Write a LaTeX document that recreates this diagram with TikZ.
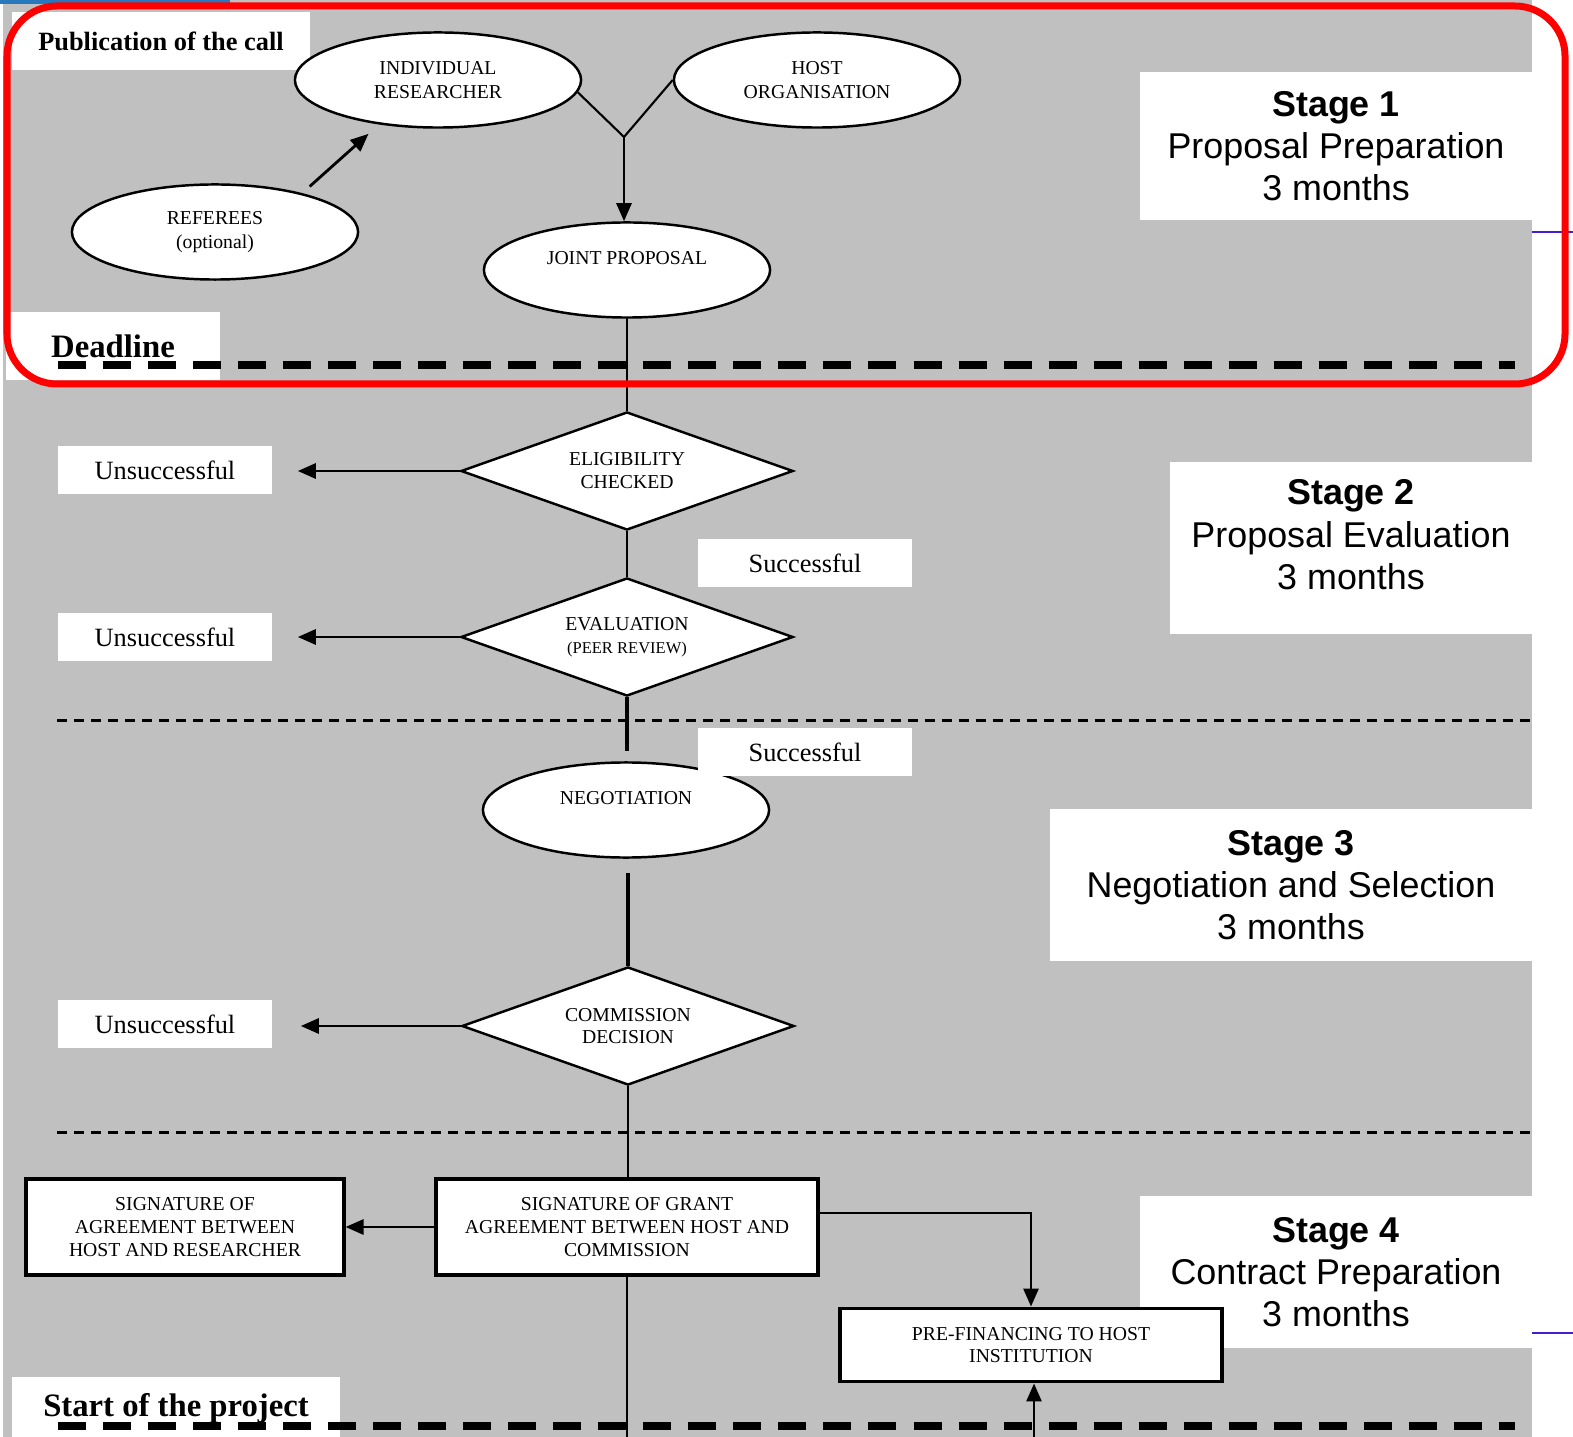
\documentclass[tikz,border=0pt]{standalone}
\usepackage{fontspec}
\setmainfont{Liberation Serif}
\setsansfont{Liberation Sans}
\usetikzlibrary{shapes.geometric,arrows.meta}
\definecolor{bggray}{RGB}{192,192,192}
\definecolor{framered}{RGB}{255,0,0}
\definecolor{edgeblue}{RGB}{70,30,210}
\definecolor{tabblue}{RGB}{40,120,190}

\begin{document}
\begin{tikzpicture}[x=0.01cm, y=-0.01cm,
  oval/.style = {draw, ellipse, fill=white, line width=0.7pt, minimum width=2.86cm, minimum height=0.95cm, inner sep=0pt, align=center, font=\fontsize{5.6}{6.8}\selectfont},
  check/.style = {draw, diamond, fill=white, line width=0.7pt, minimum width=3.32cm, minimum height=1.18cm, aspect=2.8, inner sep=0pt, align=center, font=\fontsize{5.6}{6.5}\selectfont},
  act/.style = {draw, rectangle, fill=white, line width=1.1pt, inner sep=0pt, align=center, font=\fontsize{5.6}{6.5}\selectfont},
  tag/.style = {fill=white, inner sep=0pt, font=\fontsize{7.5}{9}\selectfont},
  milestone/.style = {fill=white, inner sep=0pt, font=\bfseries\fontsize{9.3}{11}\selectfont},
  stage/.style = {fill=white, inner sep=0pt, align=center, font=\sffamily\fontsize{10.2}{12}\selectfont},
  line/.style = {line width=0.6pt},
  arrow/.style = {line width=0.8pt, -{Triangle[length=0.18cm, width=0.15cm]}},
  bigdash/.style = {line width=0.08cm, dash pattern=on 0.28cm off 0.17cm},
  smalldash/.style = {line width=0.03cm, dash pattern=on 0.1cm off 0.07cm}]
\useasboundingbox (0,0) rectangle (1573,1437);
\fill[bggray] (3,0) rectangle (1532,1437);
\fill[tabblue] (0,0) rectangle (230,4);

\node[tag, minimum width=2.97cm, minimum height=0.58cm, font=\bfseries\fontsize{7.5}{9}\selectfont] (call) at (161,41) {Publication of the call};
\node[oval] (researcher) at (438,80) {INDIVIDUAL\\RESEARCHER};
\node[oval] (host) at (817,80) {HOST\\ORGANISATION};
\node[oval] (referees) at (215,232) {REFEREES\\(optional)};
\node[oval] (joint) at (627,270) {JOINT PROPOSAL\\\mbox{}};
\coordinate (join) at (624,137);
\node[stage, minimum width=3.92cm, minimum height=1.48cm] (stage1) at (1336,146) {\textbf{Stage 1}\\Proposal Preparation\\3 months};
\node[milestone, minimum width=2.14cm, minimum height=0.67cm] (deadline) at (113,346) {Deadline};

\draw[line] (researcher.-5) -- (join);
\draw[line] (host.west) -- (join);
\draw[arrow] (join) -- (join |- joint.north);
\draw[arrow, shorten <=0.1cm, shorten >=0.14cm] (referees.24) -- (researcher.217);

\node[check] (eligible) at (627,471) {ELIGIBILITY\\CHECKED};
\node[check] (review) at (627,637) {EVALUATION\\{\fontsize{4.7}{5}\selectfont (PEER REVIEW)}};
\node[oval] (negotiation) at (626,810) {NEGOTIATION\\\mbox{}};
\node[check] (decision) at (628,1026) {COMMISSION\\DECISION};
\node[tag, minimum width=2.14cm, minimum height=0.48cm] (fail1) at (165,470) {Unsuccessful};
\node[tag, minimum width=2.14cm, minimum height=0.48cm] (fail2) at (165,637) {Unsuccessful};
\node[tag, minimum width=2.14cm, minimum height=0.48cm] (fail3) at (165,1024) {Unsuccessful};
\node[tag, minimum width=2.13cm, minimum height=0.47cm] (pass1) at (805,563) {Successful};
\node[tag, minimum width=2.13cm, minimum height=0.47cm] (pass2) at (805,752) {Successful};
\node[stage, minimum width=3.62cm, minimum height=1.72cm, text depth=0.27cm] (stage2) at (1351,548) {\textbf{Stage 2}\\Proposal Evaluation\\3 months};
\node[stage, minimum width=4.81cm, minimum height=1.51cm] (stage3) at (1291,885) {\textbf{Stage 3}\\Negotiation and Selection\\3 months};

\draw[line] (joint.south) -- (eligible.north);
\draw[arrow, shorten >=0.25cm] (eligible.west) -- (eligible.west -| fail1.east);
\draw[line] (eligible.south) -- (review.north);
\draw[arrow, shorten >=0.25cm] (review.west) -- (review.west -| fail2.east);
\draw[line width=1.1pt, shorten >=0.1cm] (review.south) -- (review.south |- negotiation.north);
\draw[line width=1.1pt, shorten <=0.14cm] (decision.north |- negotiation.south) -- (decision.north);
\draw[arrow, shorten >=0.28cm] (decision.west) -- (decision.west -| fail3.east);

\node[stage, minimum width=3.92cm, minimum height=1.52cm] (stage4) at (1336,1272) {\textbf{Stage 4}\\Contract Preparation\\3 months};
\node[act, minimum width=3.17cm, minimum height=0.96cm] (hostsign) at (185,1227) {SIGNATURE OF\\AGREEMENT BETWEEN\\HOST AND RESEARCHER};
\node[act, minimum width=3.81cm, minimum height=0.96cm] (grant) at (627,1227) {SIGNATURE OF GRANT\\AGREEMENT BETWEEN HOST AND\\COMMISSION};
\node[act, minimum width=3.81cm, minimum height=0.73cm] (prefinance) at (1031,1345) {PRE-FINANCING TO HOST\\INSTITUTION};
\node[milestone, minimum width=3.27cm, minimum height=0.62cm] (start) at (176,1408) {Start of the project};
\coordinate (projectend) at (627,1437);
\coordinate (fundsource) at (1034,1437);

\draw[line] (decision.south) -- (decision.south |- grant.north);
\draw[arrow] (grant.west) -- (hostsign.east);
\draw[arrow] ([yshift=0.14cm]grant.east) -| (prefinance.north);
\draw[line] (grant.south) -- (projectend);
\draw[arrow] (fundsource) -- (fundsource |- prefinance.south);

\draw[bigdash] (58,365) -- (1515,365);
\draw[smalldash] (57,720) -- (1530,720);
\draw[smalldash] (57,1132) -- (1530,1132);
\draw[bigdash] (58,1426) -- (1515,1426);
\draw[edgeblue, line width=0.025cm] (1532,232) -- (1573,232);
\draw[edgeblue, line width=0.025cm] (1532,1333) -- (1573,1333);
\draw[framered, line width=0.07cm, rounded corners=0.5cm] (7,6) rectangle (1565,384);
\end{tikzpicture}
\end{document}
